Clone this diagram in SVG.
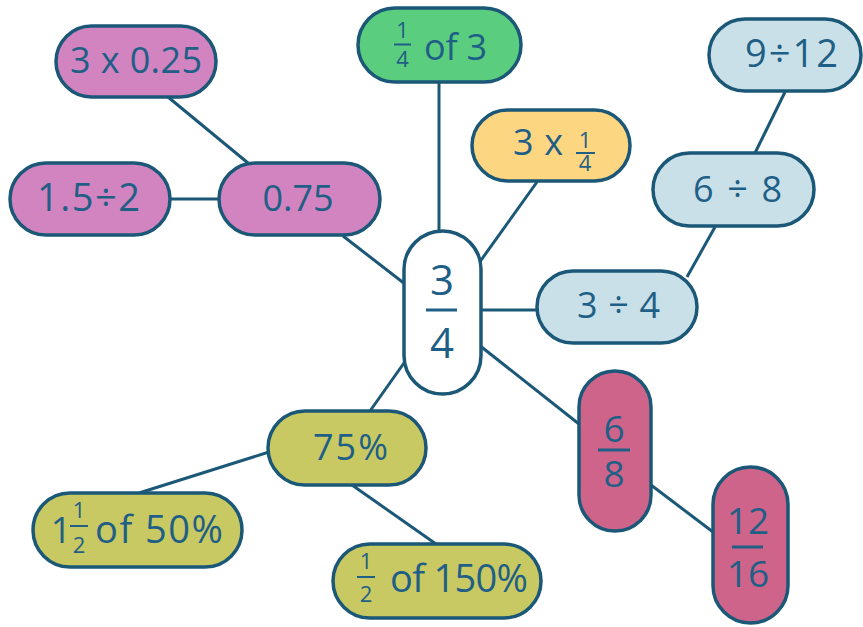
<svg xmlns="http://www.w3.org/2000/svg" width="863" height="627" viewBox="0 0 863 627">
<style>
.b{stroke:#1b5878;stroke-width:3.5}
.c line{stroke:#1b5878;stroke-width:3}
text{font-family:"Open Sans","Noto Sans",sans-serif;fill:#1f5f86;text-anchor:middle}
.m{font-size:36px}
.l{font-size:38px}
.st{text-anchor:start}
.s{font-size:22px}
.fl{stroke:#1f5f86;stroke-width:2}
.pink{fill:#d184bf}
.green{fill:#5bcd7f}
.yel{fill:#fdd682}
.lb{fill:#c9e0e8}
.ol{fill:#c8c962}
.rose{fill:#cf648b}
</style>
<rect width="863" height="627" fill="#ffffff"/>
<g id="connectors" class="c">
<line x1="168" y1="97" x2="248" y2="163"/>
<line x1="170" y1="199" x2="219" y2="199"/>
<line x1="343" y1="236" x2="405" y2="284"/>
<line x1="439" y1="82" x2="439" y2="231"/>
<line x1="537" y1="182" x2="479" y2="263"/>
<line x1="481" y1="310" x2="537" y2="310"/>
<line x1="687" y1="277" x2="715" y2="227"/>
<line x1="755" y1="153" x2="785" y2="92"/>
<line x1="479" y1="345" x2="579" y2="424"/>
<line x1="651" y1="485" x2="713" y2="532"/>
<line x1="404" y1="363" x2="370" y2="411"/>
<line x1="269" y1="452" x2="139" y2="493"/>
<line x1="352" y1="485" x2="436" y2="544"/>
</g>
<g id="n-3x025">
<rect class="b pink" x="56" y="26" width="160" height="71" rx="35.5"/>
<text class="m st" x="70" y="73" textLength="132">3 x 0.25</text>
</g>
<g id="n-15div2">
<rect class="b pink" x="10" y="163" width="160" height="72" rx="36"/>
<text class="l st" x="37" y="211" textLength="103">1.5÷2</text>
</g>
<g id="n-075">
<rect class="b pink" x="219" y="163" width="161" height="72" rx="36"/>
<text class="m" x="298" y="211">0.75</text>
</g>
<g id="n-quarterof3">
<rect class="b green" x="358" y="8" width="163" height="74" rx="37"/>
<text class="s" x="402.5" y="38">1</text>
<line class="fl" x1="394" y1="44.5" x2="411" y2="44.5"/>
<text class="s" x="402.5" y="67">4</text>
<text class="m st" x="424" y="60" textLength="63">of 3</text>
</g>
<g id="n-3xquarter">
<rect class="b yel" x="472" y="110" width="158" height="71" rx="35.5"/>
<text class="m st" x="513" y="155" textLength="50">3 x</text>
<text class="s" x="585" y="148">1</text>
<line class="fl" x1="576" y1="153" x2="595" y2="153"/>
<text class="s" x="585" y="171">4</text>
</g>
<g id="n-center">
<rect class="b" fill="#ffffff" x="404" y="231" width="77" height="163" rx="38.5"/>
<text x="442" y="295" style="font-size:42px">3</text>
<line x1="426" y1="310" x2="457" y2="310" stroke="#1f5f86" stroke-width="3"/>
<text x="442" y="358" style="font-size:42px">4</text>
</g>
<g id="n-9div12">
<rect class="b lb" x="709" y="19" width="152" height="72" rx="36"/>
<text class="l st" x="745" y="67" textLength="93">9÷12</text>
</g>
<g id="n-6div8">
<rect class="b lb" x="653" y="153" width="161" height="73" rx="36.5"/>
<text class="m st" x="693" y="202" textLength="89">6 ÷ 8</text>
</g>
<g id="n-3div4">
<rect class="b lb" x="537" y="271" width="160" height="72" rx="36"/>
<text class="m st" x="577" y="318" textLength="83">3 ÷ 4</text>
</g>
<g id="n-6over8">
<rect class="b rose" x="579" y="371" width="72" height="160" rx="36"/>
<text x="614" y="442" style="font-size:37px">6</text>
<line x1="598" y1="450" x2="630" y2="450" stroke="#1f5f86" stroke-width="3"/>
<text x="614" y="487" style="font-size:37px">8</text>
</g>
<g id="n-12over16">
<rect class="b rose" x="713" y="467" width="75" height="156" rx="37.5"/>
<text x="748" y="534" style="font-size:37px">12</text>
<line x1="732" y1="547" x2="763" y2="547" stroke="#1f5f86" stroke-width="3"/>
<text x="748" y="587" style="font-size:37px">16</text>
</g>
<g id="n-75pct">
<rect class="b ol" x="268" y="411" width="158" height="74" rx="37"/>
<text class="m st" x="313" y="460" textLength="75">75%</text>
</g>
<g id="n-1half50">
<rect class="b ol" x="33" y="493" width="209" height="74" rx="37"/>
<text class="m" x="61" y="543">1</text>
<text class="s" x="79" y="518">1</text>
<line class="fl" x1="70" y1="526" x2="88" y2="526"/>
<text class="s" x="79" y="553">2</text>
<text class="l st" x="95" y="543" textLength="128">of 50%</text>
</g>
<g id="n-half150">
<rect class="b ol" x="333" y="544" width="208" height="74" rx="37"/>
<text class="s" x="366" y="569">1</text>
<line class="fl" x1="357" y1="577" x2="375" y2="577"/>
<text class="s" x="366" y="602">2</text>
<text class="l st" x="390" y="592" textLength="138">of 150%</text>
</g>
</svg>
